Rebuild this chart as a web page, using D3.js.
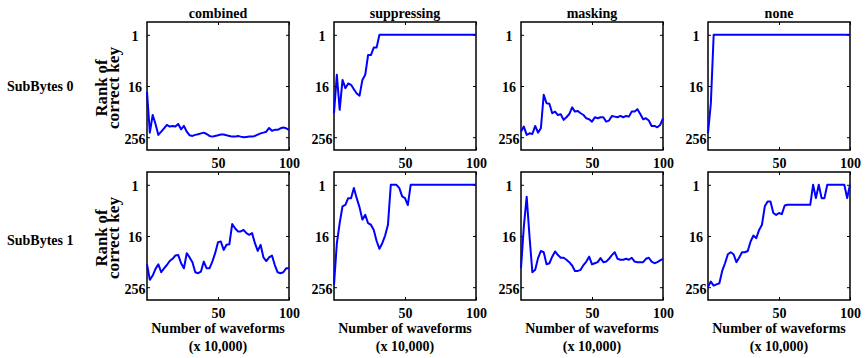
<!DOCTYPE html>
<html>
<head>
<meta charset="utf-8">
<script src="https://cdn.jsdelivr.net/npm/d3@7"></script>
<style>
  html, body { margin: 0; padding: 0; background: #fff; }
  svg { display: block; }
  text { font-family: "Liberation Serif", "Times New Roman", serif; font-weight: bold; fill: #000; }
</style>
</head>
<body>
<svg id="chart" width="866" height="358"></svg>
<script>
// Sample positions along the x axis (number of waveforms, x 10,000)
const waveforms = [0,2,4,6,8,10,12,14,16,18,20,22,24,26,28,30,32,34,36,38,40,42,44,46,48,50,
                   52,54,56,58,60,62,64,66,68,70,72,74,76,78,80,82,84,86,88,90,92,94,96,98,100];

const rowNames = ["SubBytes 0", "SubBytes 1"];
const colNames = ["combined", "suppressing", "masking", "none"];
const rankTicks = [1, 16, 256];
const waveTicks = [50, 100];

// Rank of the correct key, SubBytes 0
const combined0 = [22,200,77,125,226,190,158,132,144,139,144,125,167,139,190,231,239,226,218,208,200,215,239,248,239,231,
                   222,222,231,239,248,248,239,248,256,252,248,248,239,222,208,200,190,155,180,172,172,158,152,158,172];
const suppressing0 = [70,8.7,58,11.5,18,14,15,19,24,27,11.5,8.7,3,3,2,2,1,1,1,1,1,1,1,1,1,1,
                      1,1,1,1,1,1,1,1,1,1,1,1,1,1,1,1,1,1,1,1,1,1,1,1,1];
const masking0 = [189,144,226,207,215,139,200,158,25.8,40.8,42,70,64,77,74,100,87,73,51,64,62,70,77,92,97,110,
                  87,92,87,87,110,104,81,84,87,81,87,81,84,64,64,56,73,97,92,104,139,139,150,132,92];
const none0 = [207,41,1,1,1,1,1,1,1,1,1,1,1,1,1,1,1,1,1,1,1,1,1,1,1,1,
               1,1,1,1,1,1,1,1,1,1,1,1,1,1,1,1,1,1,1,1,1,1,1,1,1];

// Rank of the correct key, SubBytes 1
const combined1 = [74,172,136,95,74,114,92,77,62,55,46,45,70,92,40.5,51,66,114,120,110,64,92,92,64,40.5,22.3,
                   21.6,34,25.8,25,8.4,10.5,12.5,12.5,11.5,13.7,15,13.7,23.6,35.8,25.8,51,62,51,46,77,114,120,114,92,92];
const suppressing1 = [226,24,8,3.2,2.95,2.06,2.06,1.19,2.06,3.4,6.6,5.1,8,8.7,11.5,21,32,23.6,15.6,8.7,1,1,1,1.2,1.87,2.06,
                      3,1,1,1,1,1,1,1,1,1,1,1,1,1,1,1,1,1,1,1,1,1,1,1,1];
const masking1 = [92,9.6,1.9,16.4,114,100,53,36,38.5,74,70,49,37,45,52,52,58,66,79,106,106,100,77,64,49,74,
                  70,66,53,66,64,55,45,38.5,55,58,58,55,58,52,64,66,66,66,55,52,64,70,66,60,55];
const none1 = [249,189,235,220,207,106,70,43,38.5,43,66,51,38.5,38.5,36,21.6,15.6,18,11.5,8.7,3.2,2.46,2.46,4.6,5.1,4.6,
               4.9,3.06,2.95,2.95,2.95,2.95,2.95,2.95,2.95,2.95,2.95,1,2.06,1,2.06,2.06,1,1,1,1,1,1,1,2.06,1];

const series = [
  [combined0, suppressing0, masking0, none0],
  [combined1, suppressing1, masking1, none1]
];

// Layout
const panelLeft = 147, panelStep = 187, panelW = 142, panelH = 128;
const rowTop = [22, 172];
const rowLabelY = [91, 245];

const svg = d3.select("#chart");
svg.append("rect").attr("width", 866).attr("height", 358).attr("fill", "#fff");

const x = d3.scaleLinear().domain([0, 100]).range([0, panelW]);
const y = d3.scaleLog().base(2).domain([0.5, 512]).range([0, panelH]);

const line = d3.line()
  .x((d, i) => x(waveforms[i]))
  .y(d => y(d));

rowNames.forEach((rowName, r) => {
  // row label
  svg.append("text")
    .attr("x", 7)
    .attr("y", rowLabelY[r])
    .attr("font-size", 14)
    .text(rowName);

  colNames.forEach((colName, c) => {
    const g = svg.append("g")
      .attr("transform", `translate(${panelLeft + panelStep * c},${rowTop[r]})`);

    // inward ticks on all four sides
    const left = g.append("g").call(d3.axisLeft(y).tickValues(rankTicks).tickSize(-3).tickFormat(d3.format("d")));
    const right = g.append("g").attr("transform", `translate(${panelW},0)`)
      .call(d3.axisRight(y).tickValues(rankTicks).tickSize(-3).tickFormat(""));
    const top = g.append("g").call(d3.axisTop(x).tickValues(waveTicks).tickSize(-3).tickFormat(""));
    const bottom = g.append("g").attr("transform", `translate(0,${panelH})`)
      .call(d3.axisBottom(x).tickValues(waveTicks).tickSize(-3).tickFormat(d3.format("d")));

    [left, right, top, bottom].forEach(a => {
      a.select(".domain").remove();
      a.selectAll(".tick line").attr("stroke", "#000").attr("stroke-width", 1);
      a.attr("font-family", null).attr("font-size", null);
    });

    left.selectAll(".tick text")
      .attr("x", -12)
      .attr("dy", "0.42em")
      .attr("text-anchor", "middle")
      .attr("font-size", 14);

    bottom.selectAll(".tick text")
      .attr("y", 8)
      .attr("dy", "0.71em")
      .attr("font-size", 14);

    // axes box
    g.append("rect")
      .attr("width", panelW)
      .attr("height", panelH)
      .attr("fill", "none")
      .attr("stroke", "#000")
      .attr("stroke-width", 1.5);

    // rank trace
    g.append("path")
      .datum(series[r][c])
      .attr("d", line)
      .attr("fill", "none")
      .attr("stroke", "#0000ff")
      .attr("stroke-width", 2)
      .attr("stroke-linejoin", "round");

    if (r === 0) {
      g.append("text")
        .attr("x", panelW / 2)
        .attr("y", -4)
        .attr("text-anchor", "middle")
        .attr("font-size", 14)
        .text(colName);
    }

    if (c === 0) {
      const yl = g.append("g").attr("transform", `translate(-40,${panelH / 2 + 2}) rotate(-90)`);
      yl.append("text")
        .attr("text-anchor", "middle")
        .attr("font-size", 16)
        .attr("textLength", 57)
        .attr("lengthAdjust", "spacingAndGlyphs")
        .text("Rank of");
      yl.append("text")
        .attr("y", 12)
        .attr("text-anchor", "middle")
        .attr("font-size", 16)
        .attr("textLength", 82)
        .attr("lengthAdjust", "spacingAndGlyphs")
        .text("correct key");
    }

    if (r === 1) {
      g.append("text")
        .attr("x", panelW / 2)
        .attr("y", panelH + 33)
        .attr("text-anchor", "middle")
        .attr("font-size", 14)
        .text("Number of waveforms");
      g.append("text")
        .attr("x", panelW / 2)
        .attr("y", panelH + 51)
        .attr("text-anchor", "middle")
        .attr("font-size", 14)
        .text("(x 10,000)");
    }
  });
});
</script>
</body>
</html>
